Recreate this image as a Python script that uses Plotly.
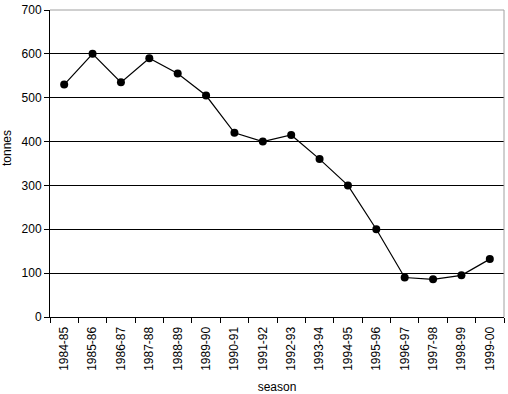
import plotly.graph_objects as go

seasons = ["1984-85", "1985-86", "1986-87", "1987-88", "1988-89", "1989-90",
           "1990-91", "1991-92", "1992-93", "1993-94", "1994-95", "1995-96",
           "1996-97", "1997-98", "1998-99", "1999-00"]
tonnes = [530, 600, 535, 590, 555, 505, 420, 400, 415, 360, 300, 200, 90, 86, 95, 132]

fig = go.Figure()
fig.add_trace(go.Scatter(
    x=seasons, y=tonnes, mode="lines+markers",
    line=dict(color="black", width=1.2),
    marker=dict(color="black", size=8, symbol="circle"),
    showlegend=False, cliponaxis=False,
))

fam = "Liberation Sans, Arial, sans-serif"

fig.update_layout(
    width=508, height=394,
    margin=dict(l=50, r=4, t=10, b=77),
    paper_bgcolor="white", plot_bgcolor="white",
    font=dict(family=fam, size=11, color="black"),
    xaxis=dict(
        type="category", tickangle=-90, tickson="boundaries",
        ticks="outside", ticklen=5, tickcolor="black", tickwidth=1,
        tickfont=dict(family=fam, size=12, color="black"),
        ticklabelstandoff=4,
        showline=True, linecolor="black", linewidth=1,
        showgrid=False, zeroline=False, automargin=False,
        title=dict(text="season", font=dict(family=fam, size=12, color="black"), standoff=14),
        range=[-0.5, 15.5],
    ),
    yaxis=dict(
        range=[0, 700], dtick=100,
        ticks="outside", ticklen=5, tickcolor="black",
        tickfont=dict(family=fam, size=12, color="black"),
        showline=True, linecolor="black", linewidth=1,
        showgrid=True, gridcolor="black", gridwidth=1,
        zeroline=False, automargin=False,
    ),
    annotations=[
        dict(text="tonnes", xref="paper", yref="paper", x=-0.095, y=0.55,
             xanchor="center", yanchor="middle", textangle=-90, showarrow=False,
             font=dict(family=fam, size=12, color="black")),
    ],
    shapes=[
        dict(type="line", xref="paper", yref="paper", x0=0, x1=1, y0=1, y1=1,
             line=dict(color="#a0a0a0", width=1)),
        dict(type="line", xref="paper", yref="paper", x0=1, x1=1, y0=0, y1=1,
             line=dict(color="#a0a0a0", width=1)),
    ],
)

fig.write_html("out.html", config={"displayModeBar": False},
               post_script="document.body.style.margin='0';document.body.style.padding='0';")
